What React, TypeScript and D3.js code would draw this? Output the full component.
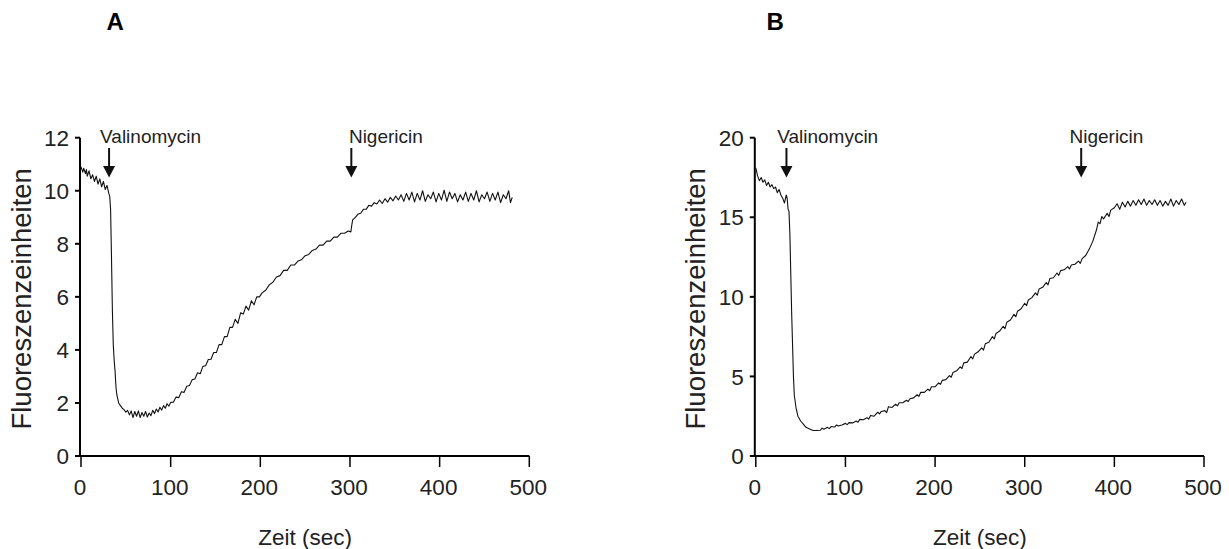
import React from "react";
import * as d3 from "d3";

// ---------- Data ----------
const xTicks = [0, 100, 200, 300, 400, 500];
const yTicksA = [0, 2, 4, 6, 8, 10, 12];
const yTicksB = [0, 5, 10, 15, 20];

const traceA: [number, number][] = [
  [0, 10.9], [2, 10.7], [3, 10.85], [5, 10.65], [6, 10.8], [7, 10.55], [9, 10.75], [11, 10.45], [13, 10.6], [15, 10.35],
  [17, 10.55], [19, 10.25], [21, 10.45], [23, 10.15], [25, 10.35], [27, 10.05], [29, 10.2], [31, 9.9],
  [32, 9.8], [33, 9.3], [34, 7.5], [35, 5.5], [36, 4.2], [37, 3.6], [38, 3.2], [39, 2.6], [40, 2.3],
  [42, 2.0], [44, 1.9], [46, 1.8], [48, 1.75], [50, 1.65], [52, 1.72], [54, 1.55], [56, 1.7], [58, 1.45],
  [60, 1.68], [62, 1.5], [64, 1.7], [66, 1.45], [68, 1.64], [70, 1.5], [72, 1.68], [74, 1.47],
  [76, 1.62], [78, 1.52], [80, 1.72], [82, 1.6], [84, 1.77], [86, 1.66], [88, 1.84], [90, 1.73],
  [92, 1.9], [94, 1.8], [96, 1.97], [98, 1.88], [100, 2.02], [103, 2.03], [106, 2.22], [109, 2.2],
  [112, 2.42], [115, 2.4], [118, 2.63], [121, 2.66], [124, 2.88], [127, 2.9], [130, 3.14], [133, 3.1],
  [136, 3.38], [139, 3.4], [142, 3.64], [145, 3.65], [148, 3.9], [151, 3.9], [154, 4.2], [157, 4.2],
  [160, 4.5], [163, 4.5], [166, 4.85], [169, 4.85], [172, 5.15], [175, 5.0], [178, 5.4], [181, 5.35],
  [184, 5.65], [187, 5.5], [190, 5.85], [193, 5.7], [196, 6.0], [199, 6.0], [202, 6.15], [206, 6.25],
  [210, 6.45], [214, 6.55], [218, 6.75], [222, 6.8], [226, 7.0], [230, 7.0], [234, 7.2], [238, 7.2],
  [242, 7.35], [246, 7.4], [250, 7.55], [254, 7.6], [258, 7.75], [262, 7.8], [266, 7.95], [270, 7.95],
  [274, 8.1], [278, 8.1], [282, 8.25], [286, 8.25], [290, 8.4], [294, 8.4], [298, 8.48], [301, 8.45],
  [302, 8.7], [303, 8.9], [306, 9.0], [309, 9.12], [312, 9.15], [315, 9.3], [318, 9.3], [321, 9.45],
  [324, 9.42], [327, 9.55], [330, 9.5], [333, 9.65], [336, 9.52], [339, 9.7], [342, 9.57], [345, 9.75],
  [348, 9.62], [351, 9.8], [354, 9.65], [357, 9.85], [360, 9.6], [363, 9.9], [366, 9.65], [369, 9.95],
  [372, 9.58], [375, 9.9], [378, 9.65], [381, 10.0], [384, 9.6], [387, 9.85], [390, 9.7], [393, 9.95],
  [396, 9.58], [399, 9.9], [402, 9.65], [405, 10.02], [408, 9.6], [411, 9.95], [414, 9.7], [417, 9.9],
  [420, 9.58], [423, 9.85], [426, 9.65], [429, 9.95], [432, 9.6], [435, 9.9], [438, 9.65], [441, 10.0],
  [444, 9.58], [447, 9.85], [450, 9.7], [453, 9.95], [456, 9.6], [459, 9.9], [462, 9.65], [465, 9.95],
  [468, 9.55], [471, 9.85], [474, 9.7], [477, 10.0], [479, 9.55], [481, 9.75],
];

const traceB: [number, number][] = [
  [0, 18.1], [2, 17.6], [4, 17.3], [6, 17.5], [8, 17.2], [10, 17.35], [12, 17.0], [14, 17.2],
  [16, 16.9], [18, 17.05], [20, 16.8], [22, 16.9], [24, 16.55], [26, 16.75], [28, 16.4], [30, 16.2],
  [32, 15.9], [34, 16.4], [35, 16.2], [36, 15.5], [37, 15.4], [38, 14.0], [39, 11.5], [40, 9.0],
  [41, 7.0], [42, 5.0], [43, 3.8], [45, 3.0], [47, 2.5], [50, 2.2], [53, 2.0], [56, 1.8], [60, 1.7],
  [64, 1.6], [68, 1.6], [72, 1.62], [74, 1.75], [76, 1.68], [80, 1.8], [82, 1.72], [84, 1.85], [88, 1.82],
  [90, 1.95], [92, 1.88], [96, 1.95], [100, 2.05], [102, 1.97], [104, 2.1], [108, 2.08], [112, 2.2],
  [114, 2.12], [116, 2.3], [120, 2.28], [124, 2.4], [126, 2.32], [128, 2.55], [132, 2.5], [136, 2.75],
  [138, 2.65], [140, 2.8], [144, 2.85], [146, 2.72], [148, 3.1], [152, 3.05], [156, 3.25], [158, 3.15],
  [160, 3.35], [164, 3.35], [168, 3.5], [170, 3.42], [172, 3.6], [176, 3.65], [180, 3.85], [182, 3.75],
  [184, 4.0], [188, 4.0], [192, 4.2], [194, 4.1], [196, 4.35], [200, 4.35], [204, 4.6], [206, 4.5],
  [208, 4.75], [212, 4.8], [216, 5.05], [218, 4.95], [220, 5.25], [224, 5.35], [228, 5.6], [230, 5.5],
  [232, 5.85], [236, 5.9], [240, 6.25], [242, 6.1], [244, 6.4], [248, 6.55], [252, 6.8], [254, 6.65],
  [256, 7.05], [260, 7.15], [264, 7.5], [266, 7.35], [268, 7.7], [272, 7.85], [276, 8.15], [278, 8.0],
  [280, 8.4], [284, 8.55], [288, 8.9], [290, 8.75], [292, 9.1], [296, 9.25], [300, 9.6], [302, 9.45],
  [304, 9.8], [308, 9.95], [312, 10.25], [314, 10.1], [316, 10.5], [320, 10.6], [324, 10.9], [326, 10.75],
  [328, 11.15], [332, 11.2], [336, 11.5], [338, 11.35], [340, 11.65], [344, 11.7], [348, 11.9],
  [350, 11.75], [352, 12.0], [356, 12.05], [360, 12.25], [362, 12.1], [364, 12.4], [368, 12.6], [372, 13.0], [376, 13.5],
  [380, 14.2], [382, 14.7], [384, 14.6], [386, 15.05], [388, 14.9], [392, 15.25], [394, 15.05], [396, 15.45], [400, 15.6], [403, 15.85], [406, 15.5],
  [409, 15.95], [412, 15.65], [415, 16.0], [418, 15.7], [421, 16.05], [424, 15.75], [427, 16.1],
  [430, 15.8], [433, 16.15], [436, 15.75], [439, 16.05], [442, 15.8], [445, 16.1], [448, 15.75],
  [451, 16.05], [454, 15.7], [457, 16.0], [460, 15.75], [463, 16.15], [466, 15.7], [469, 16.05],
  [472, 15.8], [475, 16.15], [478, 15.75], [480, 15.95],
];

const annotLabels = ["Valinomycin", "Nigericin"];
const annotTimesA = [31.3, 301.5];
const annotTimesB = [34.2, 363];

const xTitle = "Zeit (sec)";
const yTitle = "Fluoreszenzeinheiten";

// ---------- Layout ----------
const FONT = "'Liberation Sans', Arial, Helvetica, sans-serif";
const Y0 = 456;
const YTOP = 137.7;

type PanelProps = {
  letter: string;
  letterX: number;
  x0: number;
  x1: number;
  yMax: number;
  yTicks: number[];
  trace: [number, number][];
  annotTimes: number[];
  annotDx: number[];
  yTitleX: number;
};

function Panel(p: PanelProps) {
  const x = d3.scaleLinear().domain([0, 500]).range([p.x0, p.x1]);
  const y = d3.scaleLinear().domain([0, p.yMax]).range([Y0, YTOP]);
  const line = d3
    .line<[number, number]>()
    .x((d) => x(d[0]))
    .y((d) => y(d[1]));
  const axisX = p.x0 - 1;
  return (
    <g>
      <text x={p.letterX} y={30} fontFamily={FONT} fontWeight="bold" fontSize={24} fill="#000">
        {p.letter}
      </text>
      {/* y axis */}
      <line x1={axisX} x2={axisX} y1={YTOP} y2={Y0 + 1} stroke="#000" strokeWidth={2} />
      {p.yTicks.map((t) => (
        <g key={"y" + t}>
          <line x1={axisX - 5} x2={axisX} y1={y(t)} y2={y(t)} stroke="#000" strokeWidth={2} />
          <text
            x={axisX - 11}
            y={y(t)}
            dy="0.36em"
            textAnchor="end"
            fontFamily={FONT}
            fontSize={22.5}
            fill="#222"
          >
            {t}
          </text>
        </g>
      ))}
      {/* x axis */}
      <line x1={axisX} x2={p.x1} y1={Y0} y2={Y0} stroke="#000" strokeWidth={2} />
      {xTicks.map((t) => (
        <g key={"x" + t}>
          <line x1={x(t)} x2={x(t)} y1={Y0} y2={Y0 + 11} stroke="#000" strokeWidth={1.5} />
          <text x={x(t) - 1} y={495} textAnchor="middle" fontFamily={FONT} fontSize={22.5} fill="#222">
            {t}
          </text>
        </g>
      ))}
      <text
        x={x(250)}
        y={545}
        textAnchor="middle"
        fontFamily={FONT}
        fontSize={22.5}
        fill="#222"
      >
        {xTitle}
      </text>
      <text
        transform={`translate(${p.yTitleX},${(Y0 + YTOP) / 2 + 2}) rotate(-90)`}
        textAnchor="middle"
        fontFamily={FONT}
        fontSize={27.5}
        fill="#222"
      >
        {yTitle}
      </text>
      {/* trace */}
      <path d={line(p.trace) || ""} fill="none" stroke="#111" strokeWidth={1.1} strokeLinejoin="round" />
      {/* annotations */}
      {p.annotTimes.map((t, i) => {
        const ax = x(t);
        return (
          <g key={"a" + i}>
            <text x={ax + p.annotDx[i]} y={142.7} fontFamily={FONT} fontSize={19} fill="#222">
              {annotLabels[i]}
            </text>
            <line x1={ax} x2={ax} y1={148} y2={167} stroke="#111" strokeWidth={2} />
            <path d={`M${ax - 6},166 L${ax + 6},166 L${ax},177.5 Z`} fill="#111" />
          </g>
        );
      })}
    </g>
  );
}

export default function App() {
  return (
    <svg
      width={1229}
      height={549}
      viewBox="0 0 1229 549"
      style={{ position: "absolute", left: 0, top: 0, background: "#fff" }}
    >
      <rect width={1229} height={549} fill="#fff" />
      <Panel
        letter="A"
        letterX={106.5}
        x0={81}
        x1={529.3}
        yMax={12}
        yTicks={yTicksA}
        trace={traceA}
        annotTimes={annotTimesA}
        annotDx={[-9, -2.4]}
        yTitleX={31}
      />
      <Panel
        letter="B"
        letterX={766.5}
        x0={755.8}
        x1={1204}
        yMax={20}
        yTicks={yTicksB}
        trace={traceB}
        annotTimes={annotTimesB}
        annotDx={[-9.3, -11.7]}
        yTitleX={705}
      />
    </svg>
  );
}
